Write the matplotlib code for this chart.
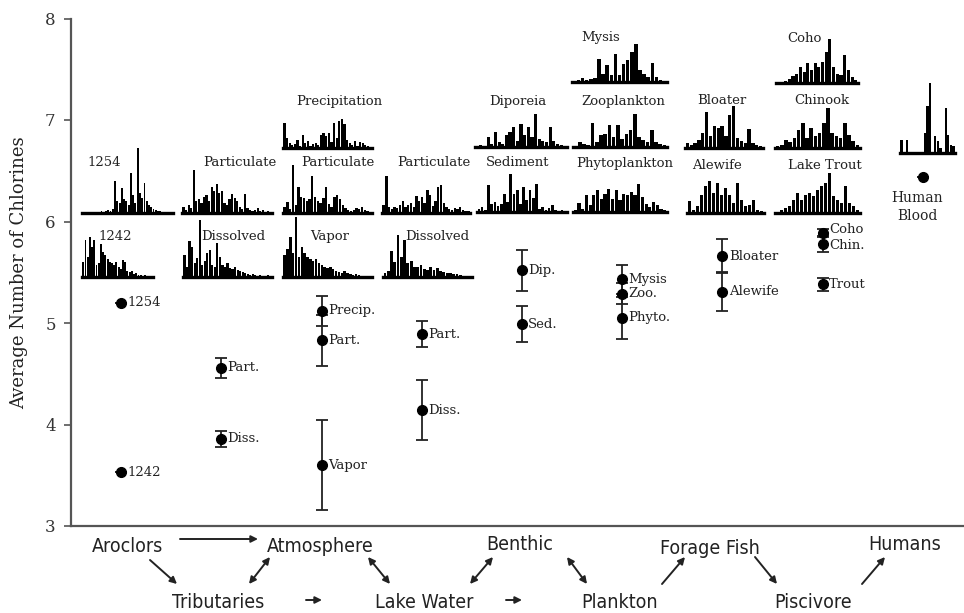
import matplotlib
matplotlib.use("Agg")
import matplotlib.pyplot as plt
from matplotlib import font_manager

W, H = 964, 613
SERIF = "DejaVu Serif"

# ---------------- data ----------------
# group index for each point (0=Aroclors, 1=Tributaries, 2=Atmosphere, 3=Lake Water,
# 4=Benthic, 5=Plankton, 6=Forage Fish, 7=Piscivore, 8=Humans)
point_group = [0, 0, 1, 1, 2, 2, 2, 3, 3, 4, 4, 5, 5, 5, 6, 6, 7, 7, 7, 8]
point_label = ["1254", "1242", "Part.", "Diss.", "Precip.", "Part.", "Vapor",
               "Part.", "Diss.", "Dip.", "Sed.", "Mysis", "Zoo.", "Phyto.",
               "Bloater", "Alewife", "Coho", "Chin.", "Trout", "Human\nBlood"]
point_value = [5.20, 3.53, 4.56, 3.86, 5.12, 4.83, 3.60, 4.89, 4.14, 5.52, 4.99,
               5.43, 5.29, 5.05, 5.66, 5.31, 5.885, 5.78, 5.38, 6.44]
point_err = [0, 0, 0.10, 0.08, 0.15, 0.25, 0.44, 0.13, 0.295, 0.20, 0.18,
             0.14, 0.10, 0.205, 0.165, 0.195, 0.04, 0.08, 0.06, 0]

# congener profiles (relative peak heights)
prof_1254 = [1, 1, 0, 1, 1, 0, 1, 1, 2, 1, 2, 3, 2, 4, 32, 12, 10, 25, 14, 12, 8, 40,
             18, 10, 65, 20, 15, 30, 12, 8, 6, 4, 3, 2, 2, 1, 1, 1, 0, 1]
prof_1242 = [15, 37, 20, 40, 30, 37, 12, 14, 33, 25, 22, 18, 15, 14, 12, 15, 10, 8,
             17, 15, 6, 5, 6, 3, 4, 2, 2, 1, 2, 1, 0, 1]
prof_trib_part = [6, 3, 8, 5, 43, 12, 14, 10, 16, 18, 12, 26, 22, 29, 20, 22, 10, 8,
                  14, 19, 15, 12, 6, 4, 19, 5, 3, 2, 3, 5, 2, 3, 1, 2, 1]
prof_trib_diss = [22, 10, 36, 30, 14, 19, 57, 12, 16, 24, 27, 12, 10, 34, 20, 12, 10,
                  14, 9, 8, 10, 7, 6, 5, 4, 3, 2, 3, 2, 1, 2, 1, 1, 2, 1]
prof_atm_part = [6, 11, 4, 48, 8, 26, 16, 15, 12, 14, 37, 16, 12, 10, 15, 26, 9, 6,
                 16, 18, 14, 8, 5, 3, 2, 3, 5, 4, 6, 3, 2, 1]
prof_atm_vapor = [22, 28, 40, 24, 60, 20, 30, 24, 20, 18, 16, 18, 14, 12, 10, 9, 10,
                  8, 6, 5, 4, 6, 4, 3, 2, 3, 2, 1, 1, 1, 1]
prof_precip = [25, 10, 5, 3, 4, 8, 2, 13, 5, 7, 2, 4, 5, 3, 13, 15, 12, 15, 6, 25, 10,
               27, 29, 24, 8, 5, 3, 7, 2, 6, 5, 3, 2, 1]
prof_lake_part = [8, 37, 6, 4, 6, 5, 8, 12, 6, 8, 10, 6, 17, 12, 16, 10, 23, 18, 7, 12,
                  26, 28, 10, 6, 4, 3, 5, 4, 6, 3, 2, 2]
prof_lake_diss = [4, 6, 26, 15, 42, 20, 37, 14, 16, 10, 10, 12, 8, 7, 10, 7, 9, 6, 5,
                  4, 4, 3, 3, 2, 1, 1, 1]
prof_sediment = [3, 5, 2, 27, 8, 10, 6, 8, 18, 10, 38, 18, 22, 8, 25, 12, 22, 14, 28,
                 3, 5, 2, 4, 7, 2, 1, 2, 1]
prof_diporeia = [1, 2, 1, 10, 3, 15, 5, 3, 12, 15, 20, 6, 23, 12, 20, 10, 33, 8, 6, 5,
                 20, 6, 3, 2, 1]
prof_phyto = [2, 9, 3, 17, 7, 17, 22, 13, 18, 23, 13, 22, 12, 18, 17, 20, 17, 28, 15,
              8, 5, 10, 7, 3, 2]
prof_zoo = [1, 5, 3, 2, 24, 5, 12, 13, 22, 10, 22, 8, 13, 17, 33, 10, 7, 5, 17, 5, 3, 2]
prof_mysis = [1, 2, 4, 2, 3, 4, 23, 8, 17, 7, 28, 7, 18, 22, 30, 38, 12, 8, 5, 19, 5,
              2, 1]
prof_bloater = [5, 3, 5, 8, 15, 36, 12, 22, 20, 22, 12, 33, 42, 10, 7, 5, 19, 5, 3, 2]
prof_alewife = [12, 3, 7, 18, 27, 32, 20, 30, 18, 25, 18, 10, 30, 13, 7, 8, 13, 3, 2]
prof_coho = [1, 1, 2, 4, 7, 9, 16, 11, 20, 13, 20, 16, 21, 31, 44, 16, 9, 8, 28, 13, 6, 3]
prof_chinook = [2, 3, 8, 6, 10, 18, 25, 10, 20, 12, 15, 25, 40, 15, 12, 10, 25, 13, 7, 3]
prof_trout = [1, 3, 5, 7, 13, 20, 13, 18, 20, 17, 23, 27, 30, 40, 17, 13, 10, 27, 10, 7, 3]
prof_human = [13, 0, 13, 0, 0, 0, 0, 0, 0, 20, 47, 70, 0, 17, 12, 5, 0, 45, 18, 8, 7]

flow_top = ["Aroclors", "Atmosphere", "Benthic", "Forage Fish", "Humans"]
flow_bottom = ["Tributaries", "Lake Water", "Plankton", "Piscivore"]

y_ticks = [3, 4, 5, 6, 7, 8]

# ---------------- fonts ----------------
installed = {f.name for f in font_manager.fontManager.ttflist}
condensed_faces = {f.name for f in font_manager.fontManager.ttflist
                   if f.stretch in ("condensed", "semi-condensed", "extra-condensed")
                   or (isinstance(f.stretch, int) and f.stretch < 500)}
if "Liberation Sans Narrow" in installed:
    FLOW_FONT = dict(family=["Liberation Sans Narrow", "DejaVu Sans"], fontsize=14.5)
elif "DejaVu Sans" in condensed_faces:
    FLOW_FONT = dict(family=["DejaVu Sans"], fontstretch="condensed", fontsize=14)
else:
    FLOW_FONT = dict(family=["DejaVu Sans"], fontsize=12)

# ---------------- figure ----------------
fig = plt.figure(figsize=(W / 100, H / 100), dpi=100)
fig.patch.set_facecolor("white")

def fx(px):
    return px / W

def fy(py):
    return 1 - py / H

ax_left, ax_right, ax_top, ax_bot = 71, 964, 18.5, 526
ax = fig.add_axes([fx(ax_left), fy(ax_bot), fx(ax_right - ax_left), (ax_bot - ax_top) / H])
ax.set_ylim(3, 8)
ax.set_xlim(-0.4988, 8.409)
for s in ("top", "right"):
    ax.spines[s].set_visible(False)
for s in ("left", "bottom"):
    ax.spines[s].set_color("#555555")
    ax.spines[s].set_linewidth(1.6)
ax.set_xticks([])
ax.set_yticks(y_ticks)
ax.set_yticklabels([str(t) for t in y_ticks], fontfamily=SERIF, fontsize=12, color="#333333")
ax.tick_params(axis="y", direction="out", length=5, width=1.2, color="#555555", pad=6)
ax.set_ylabel("Average Number of Chlorines", fontfamily=SERIF, fontsize=13,
              color="#222222", labelpad=12)

ax.errorbar(point_group, point_value, yerr=point_err, fmt="o", color="black",
            ms=7, ecolor="#222222", elinewidth=1.3, capsize=4.5, capthick=1.3,
            zorder=3)

# small vertical nudges (points) for labels that would otherwise collide
label_dy = {16: 3.0, 17: -1.0}
for i, (g, v, lab) in enumerate(zip(point_group, point_value, point_label)):
    if "\n" in lab:
        ax.annotate(lab, (g, v), xytext=(-4, -10), textcoords="offset points",
                    ha="center", va="top", fontfamily=SERIF, fontsize=10,
                    color="#222222", linespacing=1.35)
    else:
        ax.annotate(lab, (g, v), xytext=(4.5, label_dy.get(i, 0)),
                    textcoords="offset points", ha="left", va="center",
                    fontfamily=SERIF, fontsize=9.5, color="#222222")

# ---------------- profile insets ----------------
INSET_H = 72

def inset(values, x0, x1, base, title=None, tx=None, ty=None):
    a = fig.add_axes([fx(x0), fy(base), fx(x1 - x0), INSET_H / H])
    a.bar(range(len(values)), values, width=0.85, color="black", linewidth=0)
    a.set_xlim(-0.6, len(values) - 0.4)
    a.set_ylim(0, INSET_H)
    a.axhline(0, color="black", lw=2.4, clip_on=False)
    a.axis("off")
    if title is not None:
        fig.text(fx(tx), fy(ty), title, ha="center", va="center",
                 fontfamily=SERIF, fontsize=9.5, color="#222222")

inset(prof_1254, 82, 173, 213, "1254", 104, 163)
inset(prof_1242, 82, 153, 277, "1242", 115, 237)
inset(prof_trib_part, 182, 272, 213, "Particulate", 240, 163)
inset(prof_trib_diss, 183, 272, 277, "Dissolved", 233, 236)
inset(prof_atm_part, 283, 372, 213, "Particulate", 338, 163)
inset(prof_atm_vapor, 283, 372, 277, "Vapor", 330, 236)
inset(prof_precip, 283, 372, 148, "Precipitation", 339, 101)
inset(prof_lake_part, 382, 470, 213, "Particulate", 434, 163)
inset(prof_lake_diss, 383, 472, 277, "Dissolved", 437, 236)
inset(prof_sediment, 477, 567, 212, "Sediment", 518, 163)
inset(prof_diporeia, 475, 567, 147, "Diporeia", 518, 101)
inset(prof_phyto, 573, 667, 212, "Phytoplankton", 625, 163)
inset(prof_zoo, 573, 667, 147, "Zooplankton", 623, 101)
inset(prof_mysis, 572, 667, 82, "Mysis", 601, 38)
inset(prof_bloater, 685, 763, 148, "Bloater", 722, 101)
inset(prof_alewife, 687, 764, 213, "Alewife", 717, 165)
inset(prof_coho, 776, 858, 83, "Coho", 804, 38)
inset(prof_chinook, 775, 860, 148, "Chinook", 822, 101)
inset(prof_trout, 775, 860, 213, "Lake Trout", 825, 165)
inset(prof_human, 900, 955, 153)

# ---------------- flow diagram ----------------
top_pos = [(127, 547), (320, 547), (520, 545), (710, 548), (905, 545)]
bot_pos = [(218, 603), (424, 603), (620, 603), (813, 603)]
for name, (x, y) in zip(flow_top, top_pos):
    fig.text(fx(x), fy(y), name, ha="center", va="center", color="#222222", **FLOW_FONT)
for name, (x, y) in zip(flow_bottom, bot_pos):
    fig.text(fx(x), fy(y), name, ha="center", va="center", color="#222222", **FLOW_FONT)

def arrow(p1, p2, style="-|>"):
    ax.annotate("", xy=(p2[0], H - p2[1]), xytext=(p1[0], H - p1[1]),
                xycoords="figure pixels", textcoords="figure pixels",
                annotation_clip=False,
                arrowprops=dict(arrowstyle=style, color="#222222", lw=1.4,
                                mutation_scale=10, shrinkA=0, shrinkB=0))

arrow((180, 539), (258, 539))
arrow((150, 560), (177, 584))
arrow((249, 584), (270, 557), "<|-|>")
arrow((368, 557), (390, 584), "<|-|>")
arrow((306, 600), (322, 600))
arrow((470, 584), (493, 557), "<|-|>")
arrow((506, 600), (522, 600))
arrow((567, 557), (587, 584), "<|-|>")
arrow((662, 584), (685, 557))
arrow((755, 557), (777, 584))
arrow((862, 584), (885, 557))

fig.savefig("out.png", dpi=100)
